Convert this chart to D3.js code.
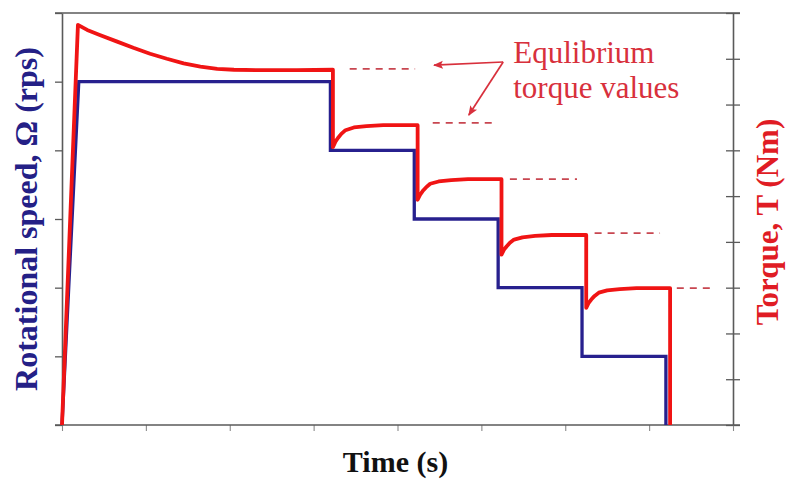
<!DOCTYPE html>
<html>
<head>
<meta charset="utf-8">
<script src="https://cdn.jsdelivr.net/npm/d3@7"></script>
<style>
  html, body { margin: 0; padding: 0; background: #fff; }
  svg { display: block; }
</style>
</head>
<body>
<svg id="chart" width="788" height="479"></svg>
<script>
// ---------- data ----------
const timeDomain = [0, 8];
const speedDomain = [0, 6];
const torqueDomain = [0, 9];

const speedTime  = [0, 0.2, 3.2, 3.2, 4.2, 4.2, 5.2, 5.2, 6.2, 6.2, 7.2, 7.2];
const speedValue = [0, 5,   5,   4,   4,   3,   3,   2,   2,   1,   1,   0];

const torqueTime = [
  0, 0.19, 0.3, 0.45, 0.65, 0.85, 1.05, 1.25, 1.45, 1.65, 1.85, 2.05, 2.4, 2.8, 3.23,
  3.23, 3.26, 3.29, 3.33, 3.38, 3.48, 3.63, 3.83, 4.24,
  4.24, 4.27, 4.30, 4.34, 4.39, 4.49, 4.64, 4.84, 5.24,
  5.24, 5.27, 5.30, 5.34, 5.39, 5.49, 5.64, 5.84, 6.25,
  6.25, 6.28, 6.31, 6.35, 6.40, 6.50, 6.65, 6.85, 7.25,
  7.25
];
const torqueValue = [
  0, 8.74, 8.63, 8.52, 8.38, 8.24, 8.11, 8.00, 7.90, 7.83, 7.78, 7.76, 7.75, 7.75, 7.76,
  6.07, 6.19, 6.27, 6.36, 6.44, 6.50, 6.53, 6.55, 6.55,
  4.92, 5.03, 5.11, 5.19, 5.27, 5.32, 5.35, 5.37, 5.37,
  3.72, 3.83, 3.90, 3.98, 4.05, 4.10, 4.13, 4.15, 4.15,
  2.56, 2.67, 2.74, 2.82, 2.89, 2.94, 2.97, 2.99, 2.99,
  0
];

// equilibrium torque (dashed) lines
const eqValue = [7.78, 6.60, 5.37, 4.19, 2.99];
const eqStart = [3.43, 4.42, 5.34, 6.35, 7.33];
const eqEnd   = [4.21, 5.19, 6.14, 7.13, 7.76];

const speedTicks  = [0, 1, 2, 3, 4, 5, 6];
const torqueTicks = [0, 1, 2, 3, 4, 5, 6, 7, 8, 9];
const timeTicks   = [0, 1, 2, 3, 4, 5, 6, 7, 8];

const annotationLines = ["Equlibrium", "torque values"];
const xLabel = "Time (s)";
const yLeftLabel = "Rotational speed, \u03A9 (rps)";
const yRightLabel = "Torque, T (Nm)";

// ---------- layout ----------
const margin = { left: 62, right: 55, top: 13, bottom: 54 };
const W = 788, H = 479;
const x0 = margin.left, x1 = W - margin.right;
const y0 = H - margin.bottom, y1 = margin.top;

const x  = d3.scaleLinear().domain(timeDomain).range([x0, x1]);
const yS = d3.scaleLinear().domain(speedDomain).range([y0, y1]);
const yT = d3.scaleLinear().domain(torqueDomain).range([y0, y1]);

const svg = d3.select("#chart");
const axisColor = "#5a5a5a";
const blue = "#27208e";
const red = "#f01414";
const annoRed = "#d8303c";
const serif = "'Liberation Serif', 'Times New Roman', serif";

// top frame line
svg.append("line")
  .attr("x1", x0 - 7).attr("x2", x1 + 7)
  .attr("y1", y1).attr("y2", y1)
  .attr("stroke", axisColor).attr("stroke-width", 1.6);

// left axis
const gL = svg.append("g").attr("transform", `translate(${x0},0)`)
  .call(d3.axisLeft(yS).tickValues(speedTicks).tickSize(7).tickSizeOuter(0).tickFormat(""));
// right axis
const gR = svg.append("g").attr("transform", `translate(${x1},0)`)
  .call(d3.axisRight(yT).tickValues(torqueTicks).tickSize(7).tickSizeOuter(0).tickFormat(""));
gR.selectAll(".tick line").attr("x1", -7).attr("x2", 7);
// bottom axis
const gB = svg.append("g").attr("transform", `translate(0,${y0})`)
  .call(d3.axisBottom(x).tickValues(timeTicks).tickSize(6).tickSizeOuter(0).tickFormat(""));
svg.append("line")
  .attr("x1", x0 - 7).attr("x2", x1 + 7)
  .attr("y1", y0).attr("y2", y0)
  .attr("stroke", axisColor).attr("stroke-width", 1.6);

[gL, gR].forEach(g => {
  g.selectAll(".domain").attr("stroke", axisColor).attr("stroke-width", 1.6);
  g.selectAll(".tick line").attr("stroke", axisColor).attr("stroke-width", 1.3);
});
gB.selectAll(".domain").attr("stroke", "none");
gB.selectAll(".tick line").attr("stroke", "#8a8a8a").attr("stroke-width", 1.1);

// speed line (blue)
const speedData = speedTime.map((t, i) => [t, speedValue[i]]);
svg.append("path")
  .attr("d", d3.line().x(d => x(d[0])).y(d => yS(d[1]))(speedData))
  .attr("fill", "none").attr("stroke", blue).attr("stroke-width", 3.3)
  .attr("stroke-linejoin", "miter");

// torque line (red)
const torqueData = torqueTime.map((t, i) => [t, torqueValue[i]]);
svg.append("path")
  .attr("d", d3.line().x(d => x(d[0])).y(d => yT(d[1]))(torqueData))
  .attr("fill", "none").attr("stroke", red).attr("stroke-width", 3.8)
  .attr("stroke-linejoin", "round");

// equilibrium dashed lines
svg.selectAll("line.eq").data(eqValue).enter().append("line")
  .attr("class", "eq")
  .attr("x1", (d, i) => x(eqStart[i])).attr("x2", (d, i) => x(eqEnd[i]))
  .attr("y1", d => yT(d)).attr("y2", d => yT(d))
  .attr("stroke", "#c84650").attr("stroke-width", 1.8)
  .attr("stroke-dasharray", "7,6");

// annotation arrows
const defs = svg.append("defs");
defs.append("marker").attr("id", "ah")
  .attr("viewBox", "0 0 10 10").attr("refX", 9).attr("refY", 5)
  .attr("markerWidth", 10).attr("markerHeight", 10)
  .attr("markerUnits", "userSpaceOnUse")
  .attr("orient", "auto")
  .append("path").attr("d", "M0,1 L10,5 L0,9 L2,5 Z").attr("fill", annoRed);

const arrowFrom = [5.26, 7.93];
const arrowTo = [[4.435, 7.86], [4.85, 6.77]];
arrowTo.forEach(p => {
  svg.append("line")
    .attr("x1", x(arrowFrom[0])).attr("y1", yT(arrowFrom[1]))
    .attr("x2", x(p[0])).attr("y2", yT(p[1]))
    .attr("stroke", annoRed).attr("stroke-width", 1.7)
    .attr("marker-end", "url(#ah)");
});

const annoText = svg.append("text")
  .attr("font-family", serif)
  .attr("font-size", 31).attr("fill", annoRed);
annoText.append("tspan").attr("x", x(5.38)).attr("y", yT(7.91)).text(annotationLines[0]);
annoText.append("tspan").attr("x", x(5.38)).attr("y", yT(7.14)).text(annotationLines[1]);

// axis titles
svg.append("text")
  .attr("x", (x0 + x1) / 2 - 2).attr("y", 472)
  .attr("text-anchor", "middle")
  .attr("font-family", serif).attr("font-weight", "bold").attr("font-size", 30)
  .attr("fill", "#111").text(xLabel);

svg.append("text")
  .attr("transform", `translate(37,${(y0 + y1) / 2}) rotate(-90)`)
  .attr("text-anchor", "middle")
  .attr("font-family", serif).attr("font-weight", "bold").attr("font-size", 32)
  .attr("fill", "#242086").text(yLeftLabel);

svg.append("text")
  .attr("transform", `translate(778,${(y0 + y1) / 2 + 3}) rotate(-90)`)
  .attr("text-anchor", "middle")
  .attr("font-family", serif).attr("font-weight", "bold").attr("font-size", 31)
  .attr("fill", "#e01c24").text(yRightLabel);
</script>
</body>
</html>
